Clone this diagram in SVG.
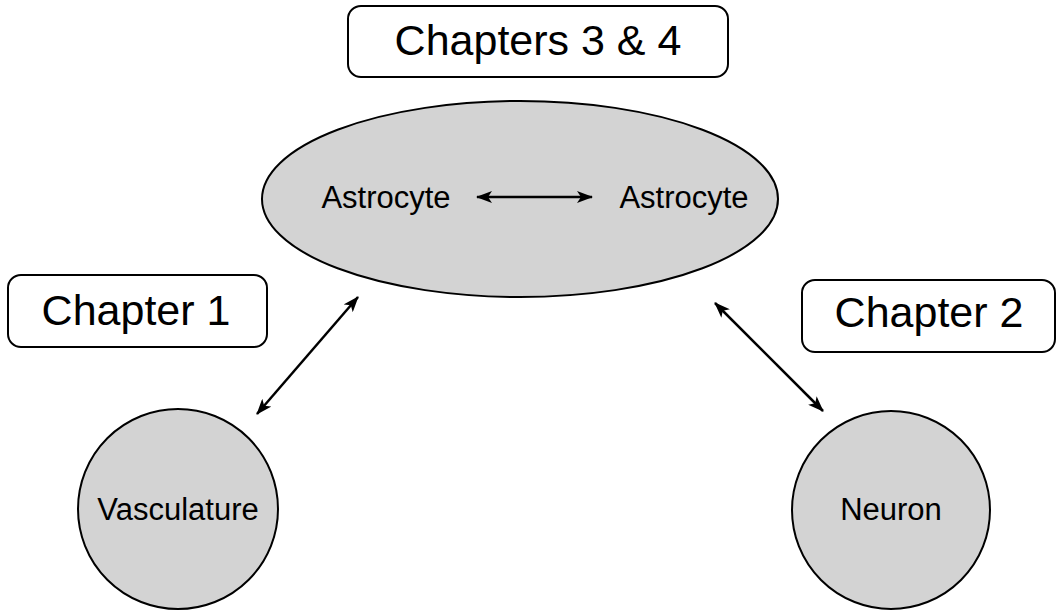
<svg xmlns="http://www.w3.org/2000/svg" width="1058" height="613" viewBox="0 0 1058 613">
<style>
.box{fill:#fff;stroke:#000;stroke-width:2}
.node{fill:#d3d3d3;stroke:#000;stroke-width:2}
.big{font-family:"Liberation Sans",Arial,sans-serif;font-size:43px;fill:#000;text-anchor:middle}
.lbl{font-family:"Liberation Sans",Arial,sans-serif;font-size:31px;fill:#000;text-anchor:middle}
.conn{stroke:#000;stroke-width:2.5;fill:none;marker-start:url(#ah);marker-end:url(#ah)}
</style>
<defs>
<marker id="ah" viewBox="0 0 16 12" refX="15" refY="6" markerWidth="16" markerHeight="12" markerUnits="userSpaceOnUse" orient="auto-start-reverse">
<path d="M0,0 L16,6 L0,12 L4,6 Z" fill="#000"/>
</marker>
</defs>
<rect width="1058" height="613" fill="#fff"/>
<g id="label-ch34"><rect class="box" x="348" y="6" width="380" height="71" rx="13"/><text class="big" x="538" y="55">Chapters 3 &amp; 4</text></g>
<g id="label-ch1"><rect class="box" x="8" y="275" width="259" height="72" rx="13"/><text class="big" x="136" y="325">Chapter 1</text></g>
<g id="label-ch2"><rect class="box" x="802" y="280" width="253" height="72" rx="13"/><text class="big" x="929" y="327">Chapter 2</text></g>
<g id="astrocytes"><ellipse class="node" cx="520" cy="199" rx="258" ry="98"/><text class="lbl" x="386" y="208">Astrocyte</text><text class="lbl" x="684" y="208">Astrocyte</text></g>
<g id="vasculature"><circle class="node" cx="178" cy="509" r="100"/><text class="lbl" x="178" y="520">Vasculature</text></g>
<g id="neuron"><circle class="node" cx="891" cy="510" r="99"/><text class="lbl" x="891" y="520">Neuron</text></g>
<g id="connectors">
<line class="conn" x1="477" y1="197" x2="592" y2="197"/>
<line class="conn" x1="358" y1="297" x2="257" y2="414"/>
<line class="conn" x1="715" y1="303" x2="823" y2="411"/>
</g>
</svg>
